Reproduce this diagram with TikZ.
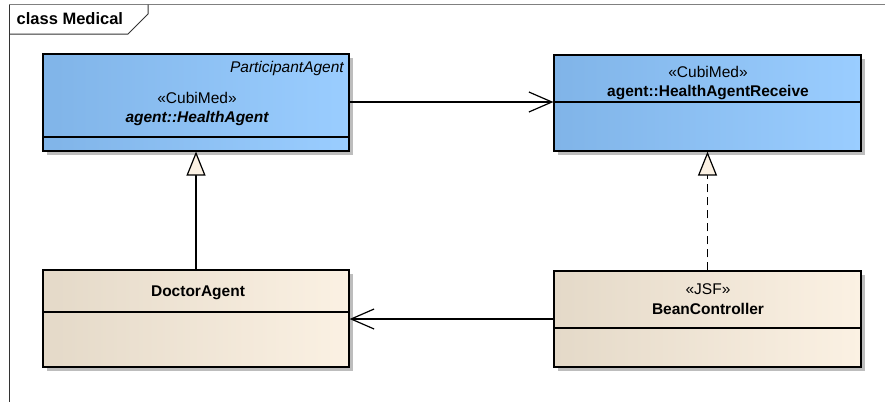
\documentclass[tikz,border=0pt]{standalone}
\usepackage{fontspec}
\setmainfont{Liberation Sans}
\usetikzlibrary{arrows.meta,shadows}
\definecolor{blueL}{HTML}{80B4E8}
\definecolor{blueR}{HTML}{9ACDFF}
\definecolor{creamL}{HTML}{E4D9C8}
\definecolor{creamR}{HTML}{FBF1E3}
\definecolor{shadowgray}{HTML}{BDBDBD}
\definecolor{framegray}{HTML}{808080}
\tikzset{
  classbox/.style={draw=black, line width=1.2pt, rectangle, inner sep=0pt,
    drop shadow={shadow xshift=4pt, shadow yshift=-4pt, fill=shadowgray, opacity=1}},
  bluebox/.style={classbox, left color=blueL, right color=blueR},
  creambox/.style={classbox, left color=creamL, right color=creamR},
  divider/.style={draw=black, line width=1.2pt},
  txt/.style={inner sep=0pt, font=\fontsize{15.5}{18}\selectfont},
  btxt/.style={inner sep=0pt, font=\fontsize{15.5}{18}\selectfont\bfseries},
  assoc/.style={line width=1.2pt, -{Straight Barb[length=23pt, width=20pt, line width=1.2pt]}},
  gen/.style={line width=1.3pt, -{Triangle[open, fill=creamR, length=24pt, width=19pt, line width=1.2pt]}},
  real/.style={gen, dash pattern=on 8pt off 5pt},
}
\begin{document}
\begin{tikzpicture}[x=1pt, y=-1pt]
\useasboundingbox (0,0) rectangle (885,402);
% frame
\draw[framegray, line width=1.2pt] (9,4.5) -- (885,4.5);
\draw[black!80, line width=1pt] (9,4.5) -- (9,402);
\draw[black!80, line width=1pt] (9,34) -- (128,34) -- (148,14) -- (148,4.5);
\node[btxt, anchor=west, font=\fontsize{16.5}{19}\selectfont\bfseries] (frametitle) at (16.5,19) {class Medical};
% classes
\node[bluebox, minimum width=306pt, minimum height=97pt] (ha) at (196,102.5) {};
\node[bluebox, minimum width=307pt, minimum height=96pt] (hr) at (707.5,103) {};
\node[creambox, minimum width=306pt, minimum height=97pt] (da) at (196,318.5) {};
\node[creambox, minimum width=307pt, minimum height=96pt] (bc) at (707.5,319) {};
% dividers
\draw[divider] (ha.west |- 0,137) -- (ha.east |- 0,137);
\draw[divider] (hr.west |- 0,102) -- (hr.east |- 0,102);
\draw[divider] (da.west |- 0,312) -- (da.east |- 0,312);
\draw[divider] (bc.west |- 0,328) -- (bc.east |- 0,328);
% texts
\node[txt, anchor=east, font=\fontsize{15.5}{18}\selectfont\itshape] (hapar) at (344,68) {ParticipantAgent};
\node[txt] (haster) at (197,98) {«CubiMed»};
\node[btxt, font=\fontsize{15.5}{18}\selectfont\bfseries\itshape] (haname) at (197,118) {agent::HealthAgent};
\node[txt] (hrster) at (708,72) {«CubiMed»};
\node[btxt] (hrname) at (708,93) {agent::HealthAgentReceive};
\node[btxt] (daname) at (198,293) {DoctorAgent};
\node[txt] (bcster) at (708,289) {«JSF»};
\node[btxt] (bcname) at (708,309) {BeanController};
% connectors
\draw[assoc] (ha.east |- 0,102) -- (hr.west |- 0,102);
\draw[assoc] (bc.west) -- (bc.west -| da.east);
\draw[gen] (da.north) -- (ha.south);
\draw[real] (bc.north) -- (hr.south);
\end{tikzpicture}
\end{document}
